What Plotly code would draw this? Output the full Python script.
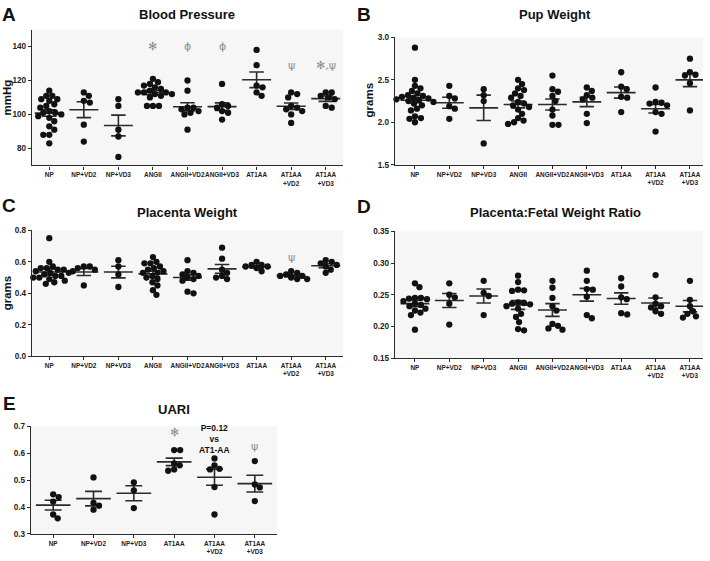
import numpy as np
import plotly.graph_objects as go

W, H = 710, 561

# ---------------- data ----------------
cats9 = ["NP", "NP+VD2", "NP+VD3", "ANGII", "ANGII+VD2", "ANGII+VD3",
         "AT1AA", "AT1AA<br>+VD2", "AT1AA<br>+VD3"]
cats6 = ["NP", "NP+VD2", "NP+VD3", "AT1AA", "AT1AA<br>+VD2", "AT1AA<br>+VD3"]

# A: Blood pressure (mmHg)
bp_points = [
    [114, 111, 111, 109, 109, 108, 106, 105, 104, 102, 101, 101, 100, 99, 98, 96, 93, 91, 88, 88, 83],
    [113, 111, 107, 108, 94, 84],
    [109, 105, 91, 87, 75],
    [121, 119, 118, 117, 116, 115, 114, 113, 113, 113, 112, 112, 111, 110, 105, 105, 105],
    [120, 114, 104, 104, 103, 102, 101, 100, 91],
    [118, 106, 105, 104, 102, 101, 97],
    [138, 129, 117, 116, 113, 111],
    [113, 112, 110, 105, 104, 103, 102, 100, 95],
    [113, 113, 111, 110, 109, 105, 104],
]
bp_mean = [100.8, 102.8, 93.5, 112.9, 104.5, 104.6, 120.4, 104.8, 109.3]
bp_sem = [1.9, 4.7, 6.1, 1.3, 2.4, 2.2, 4.6, 1.9, 1.6]

# B: Pup weight (grams)
pup_points = [
    [2.88, 2.50, 2.43, 2.40, 2.37, 2.34, 2.32, 2.31, 2.30, 2.29, 2.28, 2.27, 2.26, 2.25,
     2.24, 2.22, 2.20, 2.16, 2.14, 2.07, 2.05, 2.04, 2.00],
    [2.43, 2.31, 2.28, 2.19, 2.16, 2.04],
    [2.39, 2.32, 2.25, 1.75],
    [2.50, 2.45, 2.40, 2.38, 2.34, 2.31, 2.29, 2.24, 2.22, 2.20, 2.18, 2.15, 2.10, 2.05,
     2.02, 2.00, 1.98],
    [2.55, 2.39, 2.36, 2.31, 2.25, 2.15, 2.08, 1.97, 1.97],
    [2.41, 2.37, 2.32, 2.29, 2.27, 2.10, 1.99],
    [2.59, 2.42, 2.39, 2.30, 2.29, 2.12],
    [2.41, 2.24, 2.23, 2.22, 2.20, 2.12, 2.10, 1.89],
    [2.75, 2.59, 2.56, 2.55, 2.46, 2.14],
]
pup_mean = [2.26, 2.23, 2.17, 2.21, 2.21, 2.24, 2.35, 2.16, 2.50]
pup_sem = [0.03, 0.065, 0.15, 0.04, 0.065, 0.055, 0.065, 0.05, 0.08]

# C: Placenta weight (grams)
plac_points = [
    [0.75, 0.60, 0.57, 0.56, 0.56, 0.55, 0.55, 0.54, 0.54, 0.53, 0.53, 0.52, 0.52, 0.51,
     0.51, 0.50, 0.50, 0.49, 0.48, 0.47, 0.46],
    [0.57, 0.57, 0.56, 0.55, 0.54, 0.45],
    [0.61, 0.57, 0.52, 0.44],
    [0.63, 0.60, 0.59, 0.59, 0.57, 0.56, 0.55, 0.54, 0.53, 0.53, 0.51, 0.50, 0.49, 0.47,
     0.45, 0.42, 0.39],
    [0.61, 0.54, 0.53, 0.52, 0.51, 0.50, 0.49, 0.48, 0.41, 0.40],
    [0.69, 0.62, 0.55, 0.53, 0.51, 0.50, 0.49],
    [0.60, 0.58, 0.58, 0.57, 0.57, 0.56, 0.54],
    [0.54, 0.53, 0.52, 0.51, 0.51, 0.50, 0.49, 0.49],
    [0.61, 0.60, 0.59, 0.58, 0.57, 0.55, 0.53],
]
plac_mean = [0.535, 0.535, 0.535, 0.523, 0.50, 0.555, 0.568, 0.512, 0.575]
plac_sem = [0.02, 0.022, 0.037, 0.018, 0.017, 0.028, 0.008, 0.006, 0.013]

# D: Placenta:fetal weight ratio
ratio_points = [
    [0.268, 0.262, 0.245, 0.245, 0.244, 0.243, 0.240, 0.236, 0.234, 0.232, 0.228, 0.225,
     0.222, 0.218, 0.195],
    [0.268, 0.250, 0.246, 0.236, 0.203],
    [0.272, 0.253, 0.248, 0.218],
    [0.280, 0.270, 0.258, 0.257, 0.256, 0.238, 0.237, 0.236, 0.235, 0.232, 0.228, 0.220,
     0.215, 0.207, 0.196, 0.194],
    [0.272, 0.261, 0.245, 0.232, 0.225, 0.204, 0.201, 0.197, 0.195],
    [0.288, 0.272, 0.259, 0.258, 0.247, 0.218, 0.213],
    [0.276, 0.263, 0.246, 0.243, 0.221, 0.219],
    [0.281, 0.246, 0.236, 0.232, 0.230, 0.224, 0.220],
    [0.272, 0.242, 0.232, 0.224, 0.220, 0.216, 0.214],
]
ratio_mean = [0.236, 0.241, 0.248, 0.234, 0.226, 0.250, 0.244, 0.237, 0.232]
ratio_sem = [0.005, 0.011, 0.011, 0.007, 0.010, 0.010, 0.009, 0.008, 0.009]

# E: UARI
uari_points = [
    [0.447, 0.437, 0.420, 0.372, 0.358],
    [0.510, 0.415, 0.405, 0.390],
    [0.492, 0.462, 0.396],
    [0.612, 0.612, 0.562, 0.555, 0.540, 0.535],
    [0.581, 0.555, 0.542, 0.540, 0.474, 0.372],
    [0.571, 0.484, 0.473, 0.422],
]
uari_mean = [0.407, 0.431, 0.451, 0.568, 0.511, 0.487]
uari_sem = [0.018, 0.027, 0.028, 0.014, 0.030, 0.031]

# significance marks: (category index, y value, text)
bp_marks = [(3, 140, "✻"), (4, 140, "ϕ"), (5, 140, "ϕ"), (6, 152.5, "✻,ϕ"),
            (7, 129, "ψ"), (8, 129, "✻,ψ")]
pup_marks = [(8, 3.03, "✻")]
plac_marks = [(7, 0.63, "ψ")]
uari_marks = [(3, 0.676, "✻"), (5, 0.625, "ψ")]

# ---------------- layout geometry (pixels) ----------------
panels = [
    dict(name="A", title="Blood Pressure", ytitle="mmHg", cats=cats9, pts=bp_points,
         mean=bp_mean, sem=bp_sem, marks=bp_marks,
         px=(32, 343), py=(26, 164), xr=(-0.5, 8.5), yr=(70, 150),
         tv=[80, 100, 120, 140], fmt="{:.0f}",
         letter=(9, 11), tpos=(187, 11), ypos=(7, 95)),
    dict(name="B", title="Pup Weight", ytitle="grams", cats=cats9, pts=pup_points,
         mean=pup_mean, sem=pup_sem, marks=pup_marks,
         px=(395, 703), py=(34, 163.3), xr=(-0.58, 8.38), yr=(1.5, 3.0),
         tv=[1.5, 2.0, 2.5, 3.0], fmt="{:.1f}",
         letter=(364, 11), tpos=(555, 11), ypos=(369, 98)),
    dict(name="C", title="Placenta Weight", ytitle="grams", cats=cats9, pts=plac_points,
         mean=plac_mean, sem=plac_sem, marks=plac_marks,
         px=(32, 343), py=(230, 358), xr=(-0.5, 8.5), yr=(0, 0.8),
         tv=[0, 0.2, 0.4, 0.6, 0.8], fmt="{:.1f}",
         letter=(9, 205), tpos=(187, 212), ypos=(7, 294)),
    dict(name="D", title="Placenta:Fetal Weight Ratio", ytitle=None, cats=cats9,
         pts=ratio_points, mean=ratio_mean, sem=ratio_sem, marks=[],
         px=(395, 703), py=(231, 360), xr=(-0.58, 8.38), yr=(0.15, 0.35),
         tv=[0.15, 0.20, 0.25, 0.30, 0.35], fmt="{:.2f}",
         letter=(364, 206), tpos=(555, 212), ypos=None),
    dict(name="E", title="UARI", ytitle=None, cats=cats6, pts=uari_points,
         mean=uari_mean, sem=uari_sem, marks=uari_marks,
         px=(31, 277), py=(429.3, 538.5), xr=(-0.55, 5.55), yr=(0.3, 0.7),
         tv=[0.3, 0.4, 0.5, 0.6, 0.7], fmt="{:.1f}",
         letter=(9, 406), tpos=(174, 412), ypos=None),
]


def swarm(vals, ppu_x, ppu_y, d=5.8):
    vals = np.asarray(vals, float)
    order = np.argsort(-vals, kind="stable")
    placed = []
    offs = np.zeros(len(vals))
    for i in order:
        y = vals[i] * ppu_y
        best = None
        k = 0
        while best is None:
            cands = [0.0] if k == 0 else [k * 0.5, -k * 0.5]
            for s in cands:
                if all((s - a) ** 2 + (y - b) ** 2 >= d * d for a, b in placed):
                    best = s
                    break
            k += 1
        placed.append((best, y))
        offs[i] = best / ppu_x
    return offs


fig = go.Figure()
annotations = []
LINE = "#2b2b2b"
MARK = "#8c8c8c"


def paper(x, y):
    return x / W, 1 - y / H


for idx, p in enumerate(panels):
    n = idx + 1
    xa = "x" if n == 1 else f"x{n}"
    ya = "y" if n == 1 else f"y{n}"
    ppu_x = (p["px"][1] - p["px"][0]) / (p["xr"][1] - p["xr"][0])
    ppu_y = (p["py"][1] - p["py"][0]) / (p["yr"][1] - p["yr"][0])

    # mean +- SEM lines
    lx, ly = [], []
    hw, cw = 0.42 if len(p["cats"]) == 9 else 0.43, 0.21
    for i, (m, s) in enumerate(zip(p["mean"], p["sem"])):
        lx += [i - hw, i + hw, None, i - cw, i + cw, None, i - cw, i + cw, None, i, i, None]
        ly += [m, m, None, m + s, m + s, None, m - s, m - s, None, m - s, m + s, None]
    fig.add_trace(go.Scatter(x=lx, y=ly, mode="lines", xaxis=xa, yaxis=ya,
                             line=dict(color=LINE, width=1.6), hoverinfo="skip",
                             showlegend=False))
    # points
    px_, py_ = [], []
    for i, vals in enumerate(p["pts"]):
        offs = swarm(vals, ppu_x, ppu_y)
        px_ += list(i + offs)
        py_ += list(vals)
    fig.add_trace(go.Scatter(x=px_, y=py_, mode="markers", xaxis=xa, yaxis=ya,
                             marker=dict(size=6.3, color="#111111"), showlegend=False,
                             cliponaxis=False))

    x0, x1 = p["px"]
    y0, y1 = p["py"]
    fig.update_layout(**{
        ("xaxis" if n == 1 else f"xaxis{n}"): dict(
            domain=[x0 / W, x1 / W], range=list(p["xr"]), anchor=ya,
            tickvals=list(range(len(p["cats"]))), ticktext=p["cats"],
            showline=True, linecolor=LINE, linewidth=1.4, ticks="outside",
            ticklen=3, tickwidth=1.2, tickcolor=LINE, showgrid=False, zeroline=False,
            tickfont=dict(family="Liberation Sans", size=6.4, color="#222", weight="bold"),
            tickangle=0, fixedrange=True),
        ("yaxis" if n == 1 else f"yaxis{n}"): dict(
            domain=[1 - y1 / H, 1 - y0 / H], range=list(p["yr"]), anchor=xa,
            tickvals=p["tv"], ticktext=[p["fmt"].format(v) for v in p["tv"]],
            showline=True, linecolor=LINE, linewidth=1.4, ticks="outside",
            ticklen=3, tickwidth=1.2, tickcolor=LINE, showgrid=False, zeroline=False,
            tickfont=dict(family="Liberation Sans", size=8.2, color="#222", weight="bold"),
            fixedrange=True),
    })

    # panel letter
    ax, ay = paper(*p["letter"])
    annotations.append(dict(x=ax, y=ay, xref="paper", yref="paper", text=p["name"],
                            showarrow=False, xanchor="center", yanchor="middle",
                            font=dict(family="Liberation Sans", size=19, color="#111",
                                      weight="bold")))
    # title
    tx, ty = paper(*p["tpos"])
    annotations.append(dict(x=tx, y=ty, xref="paper", yref="paper", text=p["title"],
                            showarrow=False, xanchor="center", yanchor="middle",
                            font=dict(family="Liberation Sans", size=13, color="#111",
                                      weight="bold")))
    # y title
    if p["ytitle"]:
        yx, yy = paper(*p["ypos"])
        annotations.append(dict(x=yx, y=yy, xref="paper", yref="paper", text=p["ytitle"],
                                showarrow=False, textangle=-90, xanchor="center",
                                yanchor="middle",
                                font=dict(family="Liberation Sans", size=11.5,
                                          color="#111", weight="bold")))
    # significance marks
    for ci, yv, txt in p["marks"]:
        annotations.append(dict(x=ci, y=yv, xref=xa, yref=ya, text=txt, showarrow=False,
                                xanchor="center", yanchor="middle",
                                font=dict(family="DejaVu Sans", size=11, color=MARK)))

# P-value note in panel E
annotations.append(dict(x=4, y=0.653, xref="x5", yref="y5",
                        text="P=0.12<br>vs<br>AT1-AA", showarrow=False,
                        xanchor="center", yanchor="middle",
                        font=dict(family="Liberation Sans", size=8.5, color="#111",
                                  weight="bold")))

fig.update_layout(width=W, height=H, margin=dict(l=0, r=0, t=0, b=0),
                  paper_bgcolor="white", plot_bgcolor="#f6f6f6",
                  annotations=annotations, showlegend=False)

fig.write_html("out.html", config={"displayModeBar": False},
               post_script="document.body.style.margin='0';"
                           "document.body.style.overflow='hidden';")
